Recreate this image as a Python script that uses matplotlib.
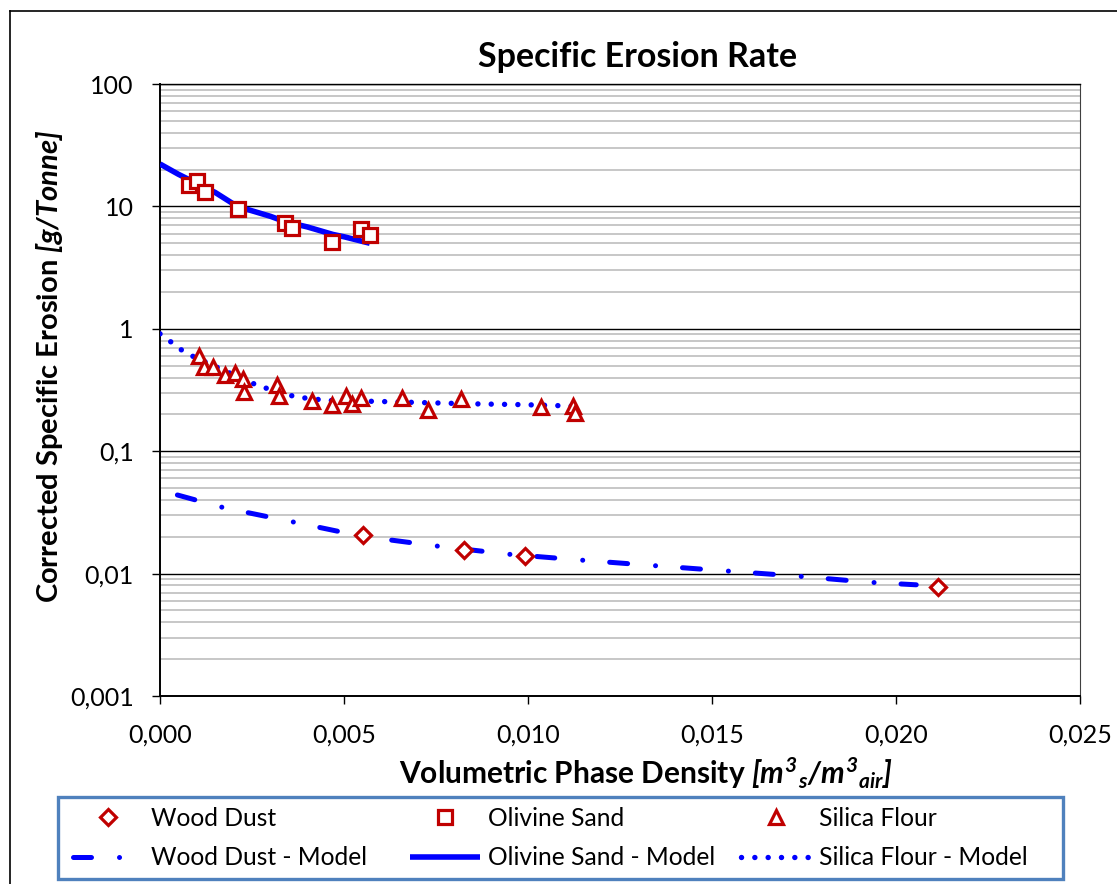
import matplotlib
matplotlib.use("Agg")
import matplotlib.pyplot as plt
from matplotlib.legend_handler import HandlerLine2D
from matplotlib.lines import Line2D
from matplotlib.patches import Rectangle
from matplotlib.ticker import FixedLocator, FuncFormatter, LogLocator, NullFormatter

plt.rcParams['font.family'] = ['Lato', 'DejaVu Sans']
plt.rcParams['mathtext.fontset'] = 'custom'
plt.rcParams['mathtext.it'] = 'Lato:italic:bold'
plt.rcParams['mathtext.rm'] = 'Lato:italic:bold'
plt.rcParams['mathtext.bf'] = 'Lato:italic:bold'

# measured points
wood_x = [0.00552, 0.00826, 0.00992, 0.02114]
wood_y = [0.0206, 0.0157, 0.0139, 0.0077]

olivine_x = [0.00080, 0.00100, 0.00122, 0.00211, 0.00340, 0.00358, 0.00467, 0.00545, 0.00571]
olivine_y = [15.0, 16.2, 13.2, 9.5, 7.3, 6.7, 5.15, 6.5, 5.85]

silica_x = [0.00107, 0.00120, 0.00143, 0.00177, 0.00204, 0.00225, 0.00229, 0.00317,
            0.00324, 0.00412, 0.00467, 0.00505, 0.00521, 0.00545, 0.00657, 0.00728,
            0.00817, 0.01034, 0.01121, 0.01128]
silica_y = [0.594, 0.492, 0.492, 0.421, 0.435, 0.388, 0.302, 0.349,
            0.284, 0.255, 0.239, 0.284, 0.244, 0.272, 0.272, 0.218,
            0.267, 0.229, 0.235, 0.205]

# model curves
wood_mx = [0.0, 0.00174, 0.00365, 0.00548, 0.00752, 0.00947, 0.01143, 0.01339,
           0.01533, 0.0173, 0.01926, 0.02055]
wood_my = [0.048, 0.0345, 0.0263, 0.0202, 0.0168, 0.0144, 0.0129, 0.01164,
           0.01054, 0.00955, 0.0085, 0.0081]

olivine_mx = [0.0, 0.0005, 0.0010, 0.0015, 0.0021, 0.0030, 0.0034, 0.0040, 0.0047, 0.0050, 0.0057]
olivine_my = [22.2, 18.3, 15.4, 13.0, 10.0, 8.3, 7.5, 6.8, 5.9, 5.65, 5.0]

silica_mx = [0.0, 0.00030, 0.00052, 0.00082, 0.00245, 0.00279, 0.00346, 0.00380,
             0.00453, 0.00593, 0.00702, 0.00842, 0.00987, 0.01096, 0.01130]
silica_my = [0.91, 0.78, 0.69, 0.61, 0.365, 0.334, 0.289, 0.275,
             0.26, 0.255, 0.25, 0.244, 0.24, 0.235, 0.233]

x_ticks = [0.0, 0.005, 0.010, 0.015, 0.020, 0.025]
y_ticks = [0.001, 0.01, 0.1, 1, 10, 100]
y_labels = ['0,001', '0,01', '0,1', '1', '10', '100']

red = '#C00000'
blue = '#0000FF'
W, H = 1117, 884
dash_dot = (3.6, 5.6, 0.01, 5.4)

fig = plt.figure(figsize=(11.17, 8.84), dpi=100)
ax = fig.add_axes([160 / W, 1 - 696 / H, 920 / W, 612 / H])

ax.set_yscale('log')
ax.set_xlim(0, 0.025)
ax.set_ylim(0.001, 100)

ax.yaxis.set_major_locator(FixedLocator(y_ticks))
ax.yaxis.set_major_formatter(FuncFormatter(lambda v, p: y_labels[y_ticks.index(v)] if v in y_ticks else ''))
ax.yaxis.set_minor_locator(LogLocator(base=10, subs=range(2, 10)))
ax.yaxis.set_minor_formatter(NullFormatter())
ax.xaxis.set_major_locator(FixedLocator(x_ticks))
ax.xaxis.set_major_formatter(FuncFormatter(lambda v, p: f'{v:.3f}'.replace('.', ',')))

ax.grid(True, which='minor', axis='y', color='#BEBEBE', lw=1.2, zorder=0)
ax.grid(True, which='major', axis='y', color='black', lw=1.0, zorder=0)
ax.tick_params(axis='y', which='minor', length=0)
ax.tick_params(axis='both', which='major', direction='out', length=5.8, width=1.0,
               labelsize=18, color='black')
ax.tick_params(axis='y', which='major', pad=13)
ax.tick_params(axis='x', which='major', pad=14)
for s in ['left', 'bottom']:
    ax.spines[s].set_linewidth(1.4)
ax.spines['top'].set_linewidth(1.0)
ax.spines['right'].set_linewidth(0.8)
ax.spines['right'].set_color('#404040')

l_wm, = ax.plot(wood_mx, wood_my, color=blue, lw=3.6, ls=(11.0, dash_dot),
                dash_capstyle='round', zorder=3, label='Wood Dust - Model')
l_om, = ax.plot(olivine_mx, olivine_my, color=blue, lw=4.0, solid_capstyle='butt', zorder=3,
                label='Olivine Sand - Model')
l_sm, = ax.plot(silica_mx, silica_my, color=blue, lw=3.9, ls=(0, (0.01, 2.45)),
                dash_capstyle='round', zorder=3, label='Silica Flour - Model')

mk = dict(ls='none', mfc='white', mec=red, mew=2.3, zorder=4)
l_w, = ax.plot(wood_x, wood_y, marker='D', ms=8.0, label='Wood Dust', **mk)
l_o, = ax.plot(olivine_x, olivine_y, marker='s', ms=10.0, label='Olivine Sand', **mk)
l_s, = ax.plot(silica_x, silica_y, marker='^', ms=9.8, label='Silica Flour', **mk)

fig.text(638 / W, 1 - 57 / H, 'Specific Erosion Rate', ha='center', va='center',
         fontsize=24.5, fontweight='bold')
fig.text(646 / W, 1 - 773 / H,
         r'Volumetric Phase Density $\mathit{[m^3{}_s/m^3{}_{air}]}$',
         ha='center', va='center', fontsize=21.5, fontweight='bold')
fig.text(50 / W, 1 - 366 / H, r'Corrected Specific Erosion $\mathit{[g/Tonne]}$',
         ha='center', va='center', rotation=90, fontsize=21, fontweight='bold')


def restart_dash(legend_line, orig):
    legend_line.update_from(orig)
    legend_line.set_linestyle((0, dash_dot))


# legend box with three columns
fig.add_artist(Rectangle((58 / W, 1 - 879 / H), 1005 / W, 82 / H, transform=fig.transFigure,
                         facecolor='white', edgecolor='#4F81BD', lw=2.4, zorder=4))
columns = [([l_w, l_wm], 73), ([l_o, l_om], 410), ([l_s, l_sm], 741)]
for handles, xpos in columns:
    lg = fig.legend(handles, [hh.get_label() for hh in handles], loc='upper left',
                    bbox_to_anchor=(xpos / W, 1 - 807 / H), borderaxespad=0, borderpad=0,
                    fontsize=17.7, handlelength=2.85, handletextpad=0.33,
                    labelspacing=0.66, frameon=False, numpoints=1,
                    handler_map={l_wm: HandlerLine2D(update_func=restart_dash)})
    lg.set_zorder(5)

# outer chart border (partly cropped)
fig.add_artist(Line2D([10 / W, 10 / W], [0, 1 - 11 / H], transform=fig.transFigure,
                      color='black', lw=1.2))
fig.add_artist(Line2D([10 / W, 1], [1 - 11 / H, 1 - 11 / H], transform=fig.transFigure,
                      color='black', lw=1.2))

fig.savefig('out.png', dpi=100)
